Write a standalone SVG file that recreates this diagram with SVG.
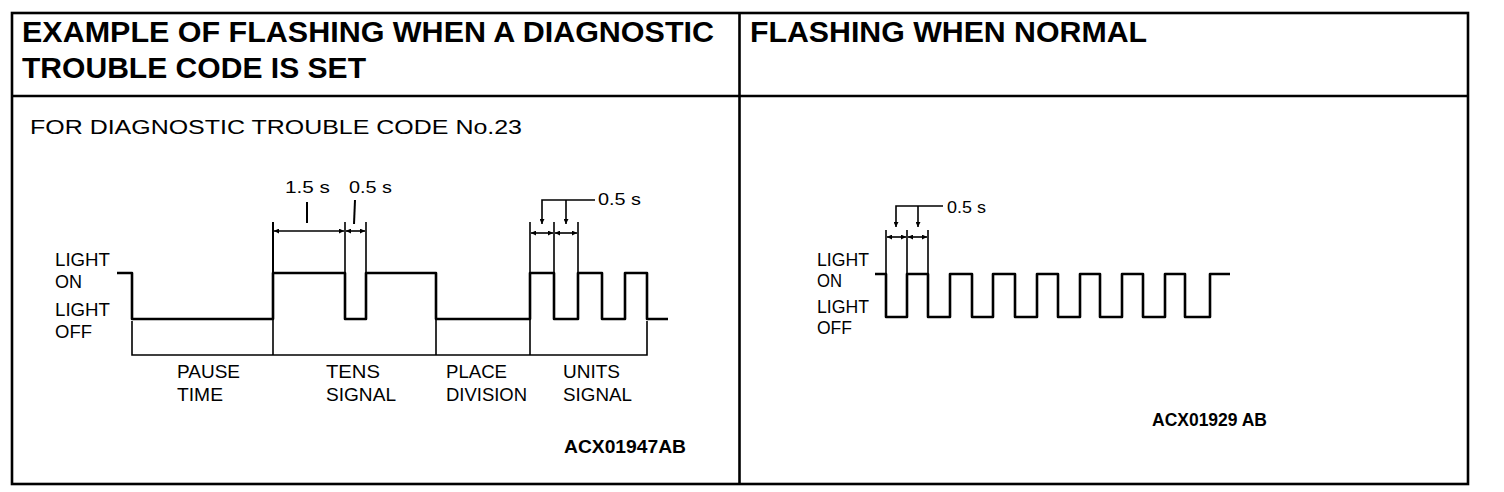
<svg xmlns="http://www.w3.org/2000/svg" width="1504" height="492" viewBox="0 0 1504 492">
<style>
  text { font-family: "Liberation Sans", Arial, sans-serif; fill: #000; }
  .hdr { font-size: 29px; font-weight: bold; }
  .sub { font-size: 20px; }
  .lbl { font-size: 18px; }
  .dim { font-size: 17px; }
  .code { font-size: 18px; font-weight: bold; }
  .frame { fill: none; stroke: #000; stroke-width: 2.6; }
  .wave { fill: none; stroke: #000; stroke-width: 2.6; stroke-linejoin: round; }
  .thin { fill: none; stroke: #000; stroke-width: 1.6; }
  .lead { fill: none; stroke: #000; stroke-width: 2; }
</style>
<defs>
  <marker id="ah" viewBox="0 0 10 10" refX="10" refY="5" markerWidth="7" markerHeight="5" orient="auto-start-reverse" markerUnits="userSpaceOnUse">
    <path d="M0,0 L10,5 L0,10 z" fill="#000"/>
  </marker>
</defs>
<rect width="1504" height="492" fill="#fff"/>

<g id="table">
  <rect class="frame" x="12" y="13" width="1456" height="471"/>
  <line class="frame" x1="739.5" y1="13" x2="739.5" y2="484"/>
  <line class="frame" x1="12" y1="96" x2="1468" y2="96"/>
</g>

<g id="headers">
  <text class="hdr" x="22" y="42" textLength="692" lengthAdjust="spacingAndGlyphs">EXAMPLE OF FLASHING WHEN A DIAGNOSTIC</text>
  <text class="hdr" x="22" y="78" textLength="344" lengthAdjust="spacingAndGlyphs">TROUBLE CODE IS SET</text>
  <text class="hdr" x="750" y="42" textLength="397" lengthAdjust="spacingAndGlyphs">FLASHING WHEN NORMAL</text>
</g>

<g id="left-diagram">
  <text class="sub" x="30" y="134" textLength="492" lengthAdjust="spacingAndGlyphs">FOR DIAGNOSTIC TROUBLE CODE No.23</text>
  <g id="left-levels">
    <text class="lbl" x="55" y="266" textLength="55" lengthAdjust="spacingAndGlyphs">LIGHT</text>
    <text class="lbl" x="55" y="288" textLength="27" lengthAdjust="spacingAndGlyphs">ON</text>
    <text class="lbl" x="55" y="316" textLength="55" lengthAdjust="spacingAndGlyphs">LIGHT</text>
    <text class="lbl" x="55" y="338" textLength="37" lengthAdjust="spacingAndGlyphs">OFF</text>
  </g>
  <path id="left-wave" class="wave" d="M117,273 H132 V319 H273 V273 H345 V319 H366 V273 H436 V319 H530 V273 H554 V319 H578 V273 H602 V319 H625 V273 H647 V319 H668"/>
  <g id="left-phases">
    <text class="lbl" x="177" y="378" textLength="63" lengthAdjust="spacingAndGlyphs">PAUSE</text>
    <text class="lbl" x="177" y="401" textLength="46" lengthAdjust="spacingAndGlyphs">TIME</text>
    <text class="lbl" x="326" y="378" textLength="54" lengthAdjust="spacingAndGlyphs">TENS</text>
    <text class="lbl" x="326" y="401" textLength="70" lengthAdjust="spacingAndGlyphs">SIGNAL</text>
    <text class="lbl" x="446" y="378" textLength="61" lengthAdjust="spacingAndGlyphs">PLACE</text>
    <text class="lbl" x="446" y="401" textLength="81" lengthAdjust="spacingAndGlyphs">DIVISION</text>
    <text class="lbl" x="563" y="378" textLength="57" lengthAdjust="spacingAndGlyphs">UNITS</text>
    <text class="lbl" x="563" y="401" textLength="69" lengthAdjust="spacingAndGlyphs">SIGNAL</text>
  </g>
  <g id="left-dims-text">
    <text class="dim" x="285" y="193" textLength="45" lengthAdjust="spacingAndGlyphs">1.5 s</text>
    <text class="dim" x="349" y="193" textLength="43" lengthAdjust="spacingAndGlyphs">0.5 s</text>
    <text class="dim" x="598" y="205" textLength="43" lengthAdjust="spacingAndGlyphs">0.5 s</text>
  </g>
  <text class="code" x="564" y="453" textLength="122" lengthAdjust="spacingAndGlyphs">ACX01947AB</text>
</g>

<g id="right-diagram">
  <g id="right-levels">
    <text class="lbl" x="817" y="266" textLength="52" lengthAdjust="spacingAndGlyphs">LIGHT</text>
    <text class="lbl" x="817" y="287" textLength="25" lengthAdjust="spacingAndGlyphs">ON</text>
    <text class="lbl" x="817" y="313" textLength="52" lengthAdjust="spacingAndGlyphs">LIGHT</text>
    <text class="lbl" x="817" y="334" textLength="35" lengthAdjust="spacingAndGlyphs">OFF</text>
  </g>
  <path id="right-wave" class="wave" d="M875,274 H886 V317 H907 V274 H928 V317 H950 V274 H972 V317 H993 V274 H1015 V317 H1037 V274 H1058 V317 H1080 V274 H1100 V317 H1122 V274 H1143 V317 H1165 V274 H1185 V317 H1210 V274 H1230"/>
  <text class="dim" x="947" y="213" textLength="39" lengthAdjust="spacingAndGlyphs">0.5 s</text>
  <text class="code" x="1152" y="426" textLength="115" lengthAdjust="spacingAndGlyphs">ACX01929 AB</text>
</g>

<g id="connectors">
  <!-- left: phase bracket -->
  <path class="thin" d="M132,321 V355 H647 V321"/>
  <line class="thin" x1="273" y1="319" x2="273" y2="355"/>
  <line class="thin" x1="436" y1="319" x2="436" y2="355"/>
  <line class="thin" x1="530" y1="319" x2="530" y2="355"/>
  <!-- left: tens dimensions -->
  <line class="lead" x1="273" y1="222" x2="273" y2="274"/>
  <line class="thin" x1="345" y1="222" x2="345" y2="274"/>
  <line class="thin" x1="366" y1="222" x2="366" y2="274"/>
  <line class="thin" x1="274" y1="231" x2="344" y2="231" marker-start="url(#ah)" marker-end="url(#ah)"/>
  <line class="thin" x1="346" y1="231" x2="365" y2="231" marker-start="url(#ah)" marker-end="url(#ah)"/>
  <line class="lead" x1="307" y1="202" x2="307" y2="223"/>
  <line class="lead" x1="355" y1="200" x2="354" y2="224"/>
  <!-- left: units dimensions -->
  <line class="thin" x1="530" y1="222" x2="530" y2="274"/>
  <line class="thin" x1="554" y1="222" x2="554" y2="274"/>
  <line class="thin" x1="578" y1="222" x2="578" y2="274"/>
  <line class="thin" x1="531" y1="233" x2="553" y2="233" marker-start="url(#ah)" marker-end="url(#ah)"/>
  <line class="thin" x1="555" y1="233" x2="577" y2="233" marker-start="url(#ah)" marker-end="url(#ah)"/>
  <path class="thin" d="M542,224 V200 H595" marker-start="url(#ah)"/>
  <line class="thin" x1="566" y1="200" x2="566" y2="224" marker-end="url(#ah)"/>
  <!-- right: dimensions -->
  <line class="thin" x1="886" y1="230" x2="886" y2="275"/>
  <line class="thin" x1="907" y1="230" x2="907" y2="275"/>
  <line class="thin" x1="928" y1="230" x2="928" y2="275"/>
  <line class="thin" x1="887" y1="237" x2="906" y2="237" marker-start="url(#ah)" marker-end="url(#ah)"/>
  <line class="thin" x1="908" y1="237" x2="927" y2="237" marker-start="url(#ah)" marker-end="url(#ah)"/>
  <path class="thin" d="M896,227 V206 H943" marker-start="url(#ah)"/>
  <line class="thin" x1="918" y1="206" x2="918" y2="227" marker-end="url(#ah)"/>
</g>
</svg>
